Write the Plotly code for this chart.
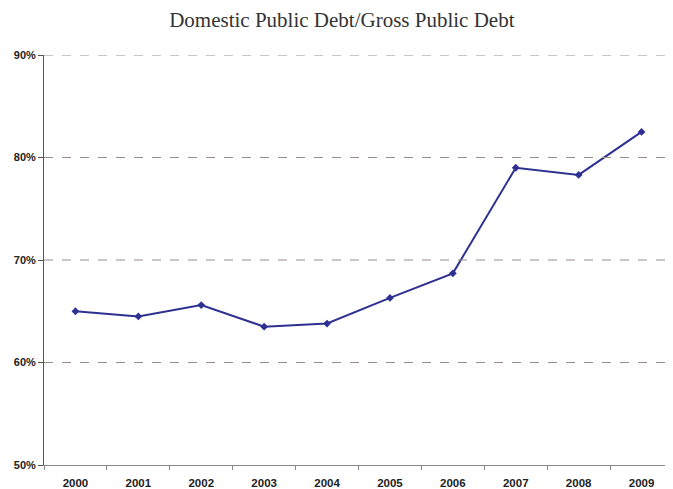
import plotly.graph_objects as go

years = ['2000', '2001', '2002', '2003', '2004', '2005', '2006', '2007', '2008', '2009']
domestic_share = [65.0, 64.5, 65.6, 63.5, 63.8, 66.3, 68.7, 79.0, 78.3, 82.5]
y_ticks = [50, 60, 70, 80, 90]
y_labels = ['50%', '60%', '70%', '80%', '90%']

fig = go.Figure()

# dashed gridlines (except the base line)
for v in y_ticks[1:]:
    fig.add_hline(y=v, line_dash='dash', line_color='#9a8c8c', line_width=1)

fig.add_trace(go.Scatter(
    x=years, y=domestic_share,
    mode='lines+markers',
    line=dict(color='#2e3192', width=2),
    marker=dict(symbol='diamond', size=6, color='#2e3192'),
    showlegend=False
))

# page body has an 8px margin, so the figure is shrunk to fit the window
fig.update_layout(
    width=665, height=481,
    margin=dict(l=36, r=0, t=47, b=24),
    paper_bgcolor='white', plot_bgcolor='white',
    title=dict(text='Domestic Public Debt/Gross Public Debt', x=0.502, xanchor='center',
               y=0.975, yanchor='middle',
               font=dict(family='Liberation Serif', size=21, color='#333333')),
    font=dict(family='Liberation Sans', size=11, color='#222222'),
)

fig.update_xaxes(
    type='category', tickson='boundaries', ticks='outside', ticklen=4,
    tickcolor='#888888', showline=True, linecolor='#888888', linewidth=1,
    ticklabelstandoff=7,
    showgrid=False, tickfont=dict(family='Liberation Sans', size=11.5, color='#222222', weight='bold'),
    range=[-0.5, 9.5]
)
fig.update_yaxes(
    range=[50, 90], tickvals=y_ticks, ticktext=y_labels, ticks='outside', ticklen=5,
    tickcolor='#555555', showline=True, linecolor='#555555', linewidth=1,
    showgrid=False, zeroline=False,
    tickfont=dict(family='Liberation Sans', size=11, color='#222222', weight='bold')
)

fig.write_html('out.html')
